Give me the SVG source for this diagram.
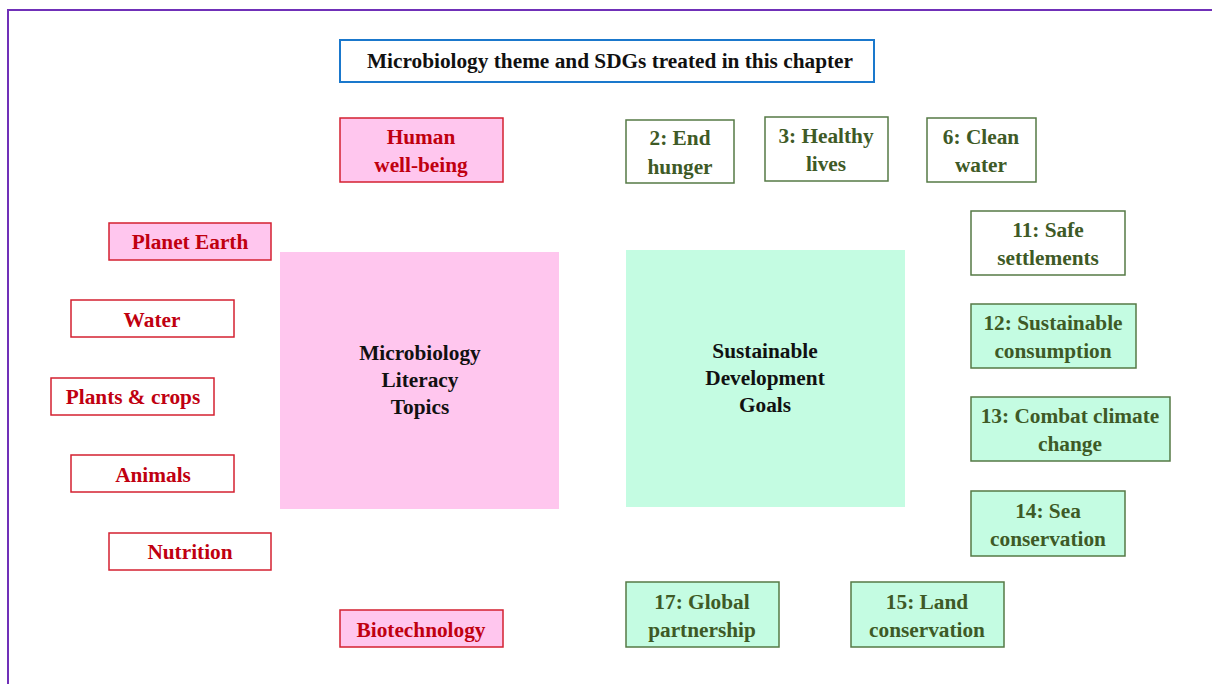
<svg xmlns="http://www.w3.org/2000/svg" width="1212" height="684" viewBox="0 0 1212 684">
<style>
text{font-family:"Liberation Serif","DejaVu Serif",serif;font-weight:bold;font-size:21.3px;text-anchor:middle}
.red{fill:#C00010}
.grn{fill:#3E5A26}
.blk{fill:#111}
.rbox{stroke:#D42030;stroke-width:1.5}
.gbox{stroke:#557A45;stroke-width:1.5}
.pink{fill:#FFC6EE}
.mint{fill:#C4FCE2}
.white{fill:#fff}
</style>
<rect x="8" y="10" width="1260" height="720" fill="#fff" stroke="#7030B8" stroke-width="2"/>
<g id="title"><rect x="340" y="40" width="534" height="42" fill="#fff" stroke="#1A78CC" stroke-width="2"/><text class="blk" x="610" y="68">Microbiology theme and SDGs treated in this chapter</text></g>
<g id="micro"><rect x="280" y="252" width="279" height="257" class="pink"/><text class="blk" x="420" y="360">Microbiology</text><text class="blk" x="420" y="387">Literacy</text><text class="blk" x="420" y="414">Topics</text></g>
<g id="sdg"><rect x="626" y="250" width="279" height="257" class="mint"/><text class="blk" x="765" y="358">Sustainable</text><text class="blk" x="765" y="385">Development</text><text class="blk" x="765" y="412">Goals</text></g>
<g id="human"><rect x="340" y="118" width="163" height="64" class="pink rbox"/><text class="red" x="421" y="144">Human</text><text class="red" x="421" y="172">well-being</text></g>
<g id="planet"><rect x="109" y="223" width="162" height="37" class="pink rbox"/><text class="red" x="190" y="249">Planet Earth</text></g>
<g id="water"><rect x="71" y="300" width="163" height="37" class="white rbox"/><text class="red" x="152" y="327">Water</text></g>
<g id="plants"><rect x="51" y="378" width="163" height="37" class="white rbox"/><text class="red" x="133" y="404">Plants &amp; crops</text></g>
<g id="animals"><rect x="71" y="455" width="163" height="37" class="white rbox"/><text class="red" x="153" y="482">Animals</text></g>
<g id="nutrition"><rect x="109" y="533" width="162" height="37" class="white rbox"/><text class="red" x="190" y="559">Nutrition</text></g>
<g id="biotech"><rect x="340" y="610" width="163" height="37" class="pink rbox"/><text class="red" x="421" y="637">Biotechnology</text></g>
<g id="sdg2"><rect x="626" y="120" width="108" height="63" class="white gbox"/><text class="grn" x="680" y="145">2: End</text><text class="grn" x="680" y="174">hunger</text></g>
<g id="sdg3"><rect x="765" y="117" width="123" height="64" class="white gbox"/><text class="grn" x="826" y="143">3: Healthy</text><text class="grn" x="826" y="171">lives</text></g>
<g id="sdg6"><rect x="927" y="118" width="109" height="64" class="white gbox"/><text class="grn" x="981" y="144">6: Clean</text><text class="grn" x="981" y="172">water</text></g>
<g id="sdg11"><rect x="971" y="211" width="154" height="64" class="white gbox"/><text class="grn" x="1048" y="237">11: Safe</text><text class="grn" x="1048" y="265">settlements</text></g>
<g id="sdg12"><rect x="971" y="304" width="165" height="64" class="mint gbox"/><text class="grn" x="1053" y="330">12: Sustainable</text><text class="grn" x="1053" y="358">consumption</text></g>
<g id="sdg13"><rect x="971" y="397" width="199" height="64" class="mint gbox"/><text class="grn" x="1070" y="423">13: Combat climate</text><text class="grn" x="1070" y="451">change</text></g>
<g id="sdg14"><rect x="971" y="491" width="154" height="65" class="mint gbox"/><text class="grn" x="1048" y="518">14: Sea</text><text class="grn" x="1048" y="546">conservation</text></g>
<g id="sdg17"><rect x="626" y="582" width="153" height="65" class="mint gbox"/><text class="grn" x="702" y="609">17: Global</text><text class="grn" x="702" y="637">partnership</text></g>
<g id="sdg15"><rect x="851" y="582" width="153" height="65" class="mint gbox"/><text class="grn" x="927" y="609">15: Land</text><text class="grn" x="927" y="637">conservation</text></g>
<g id="connectors"></g>
</svg>
